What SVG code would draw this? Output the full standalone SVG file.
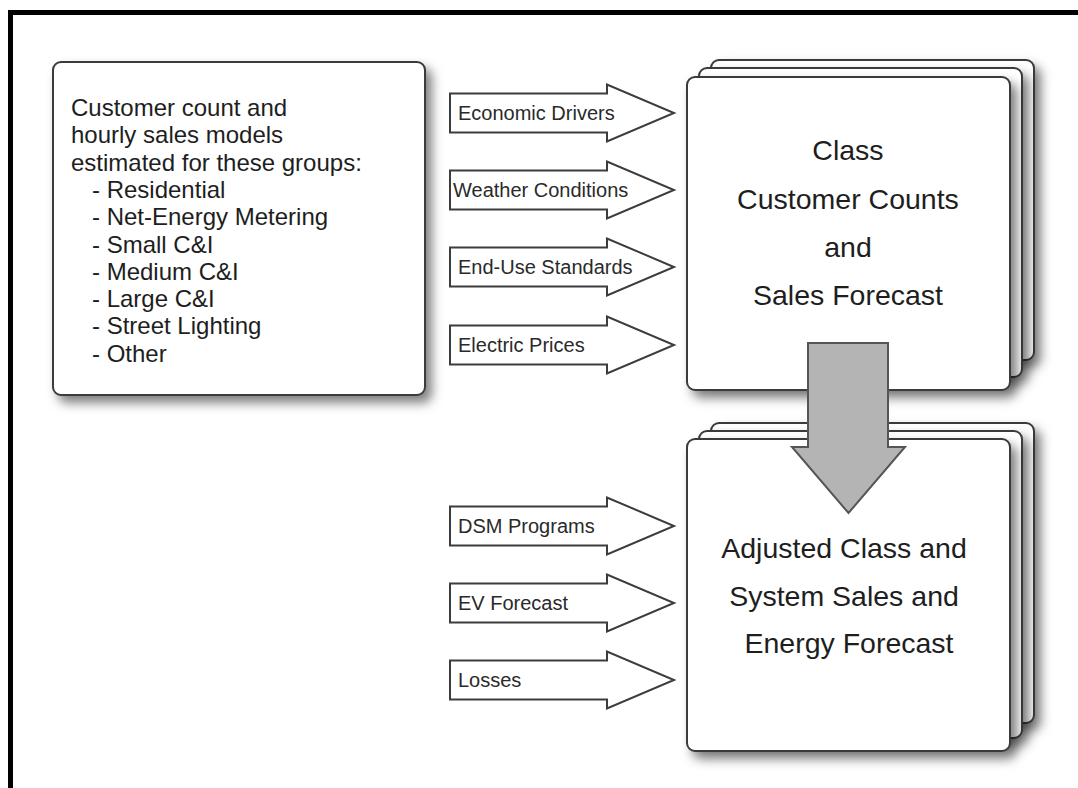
<svg xmlns="http://www.w3.org/2000/svg" xmlns:xlink="http://www.w3.org/1999/xlink" width="1078" height="788" viewBox="0 0 1078 788">
  <style>
    .box { fill: #ffffff; stroke: #3a3a3a; stroke-width: 2; }
    .inarrow { fill: #ffffff; stroke: #3c3c3c; stroke-width: 2; stroke-linejoin: miter; }
    .flow { fill: #b4b4b4; stroke: #555555; stroke-width: 2; }
    .lbl { font-family: "Liberation Sans", Arial, sans-serif; font-size: 20px; fill: #2a2a2a; }
    .body { font-family: "Liberation Sans", Arial, sans-serif; font-size: 24px; fill: #1e1e1e; }
    .big { font-family: "Liberation Sans", Arial, sans-serif; font-size: 28.5px; fill: #1e1e1e; text-anchor: middle; }
  </style>
  <defs>
    <filter id="shadow" x="-15%" y="-15%" width="140%" height="140%">
      <feDropShadow dx="6" dy="7" stdDeviation="5.5" flood-color="#000000" flood-opacity="0.5"/>
    </filter>
    <!-- block arrow pointing right, origin at left-middle -->
    <path id="inArrow" d="M0,-19.5 H157 V-28.5 L224,0 L157,28.5 V19.5 H0 Z"/>
  </defs>

  <rect width="1078" height="788" fill="#ffffff"/>

  <!-- page frame -->
  <path d="M10.5,790 V12.5 H1080" fill="none" stroke="#000000" stroke-width="5"/>

  <!-- model groups -->
  <g id="groups">
    <rect class="box" x="53" y="62" width="372" height="333" rx="8" filter="url(#shadow)"/>
    <text class="body" x="71" y="116">Customer count and</text>
    <text class="body" x="71" y="143.3">hourly sales models</text>
    <text class="body" x="71" y="170.6">estimated for these groups:</text>
    <text class="body" x="92" y="197.9">- Residential</text>
    <text class="body" x="92" y="225.2">- Net-Energy Metering</text>
    <text class="body" x="92" y="252.5">- Small C&amp;I</text>
    <text class="body" x="92" y="279.8">- Medium C&amp;I</text>
    <text class="body" x="92" y="307.1">- Large C&amp;I</text>
    <text class="body" x="92" y="334.4">- Street Lighting</text>
    <text class="body" x="92" y="361.7">- Other</text>
  </g>

  <!-- class forecast stack -->
  <g id="class-forecast">
    <rect class="box" x="711" y="60" width="323" height="300" rx="8" filter="url(#shadow)"/>
    <rect class="box" x="699" y="68" width="323" height="309" rx="8" filter="url(#shadow)"/>
    <rect class="box" x="687" y="77" width="323" height="313" rx="8" filter="url(#shadow)"/>
    <text class="big" x="848" y="160">Class</text>
    <text class="big" x="848" y="209">Customer Counts</text>
    <text class="big" x="848" y="257">and</text>
    <text class="big" x="848" y="305">Sales Forecast</text>
  </g>

  <!-- adjusted forecast stack -->
  <g id="adjusted-forecast">
    <rect class="box" x="711" y="423" width="323" height="300" rx="8" filter="url(#shadow)"/>
    <rect class="box" x="699" y="431" width="323" height="307" rx="8" filter="url(#shadow)"/>
    <rect class="box" x="687" y="439" width="323" height="312" rx="8" filter="url(#shadow)"/>
    <text class="big" x="844" y="558">Adjusted Class and</text>
    <text class="big" x="844" y="606">System Sales and</text>
    <text class="big" x="849" y="653">Energy Forecast</text>
  </g>

  <!-- inputs and flow arrows -->
  <g id="connectors">
    <g id="in-economic">
      <use href="#inArrow" class="inarrow" x="450" y="113"/>
      <text class="lbl" x="458" y="120">Economic Drivers</text>
    </g>
    <g id="in-weather">
      <use href="#inArrow" class="inarrow" x="450" y="190"/>
      <text class="lbl" x="453" y="197">Weather Conditions</text>
    </g>
    <g id="in-enduse">
      <use href="#inArrow" class="inarrow" x="450" y="267"/>
      <text class="lbl" x="458" y="274">End-Use Standards</text>
    </g>
    <g id="in-prices">
      <use href="#inArrow" class="inarrow" x="450" y="345"/>
      <text class="lbl" x="458" y="352">Electric Prices</text>
    </g>
    <g id="in-dsm">
      <use href="#inArrow" class="inarrow" x="450" y="526"/>
      <text class="lbl" x="458" y="533">DSM Programs</text>
    </g>
    <g id="in-ev">
      <use href="#inArrow" class="inarrow" x="450" y="603"/>
      <text class="lbl" x="458" y="610">EV Forecast</text>
    </g>
    <g id="in-losses">
      <use href="#inArrow" class="inarrow" x="450" y="680"/>
      <text class="lbl" x="458" y="687">Losses</text>
    </g>
    <path id="flow-down" class="flow" d="M808,343 H888 V447 H905 L848.5,513 L792,447 H808 Z"/>
  </g>
</svg>
